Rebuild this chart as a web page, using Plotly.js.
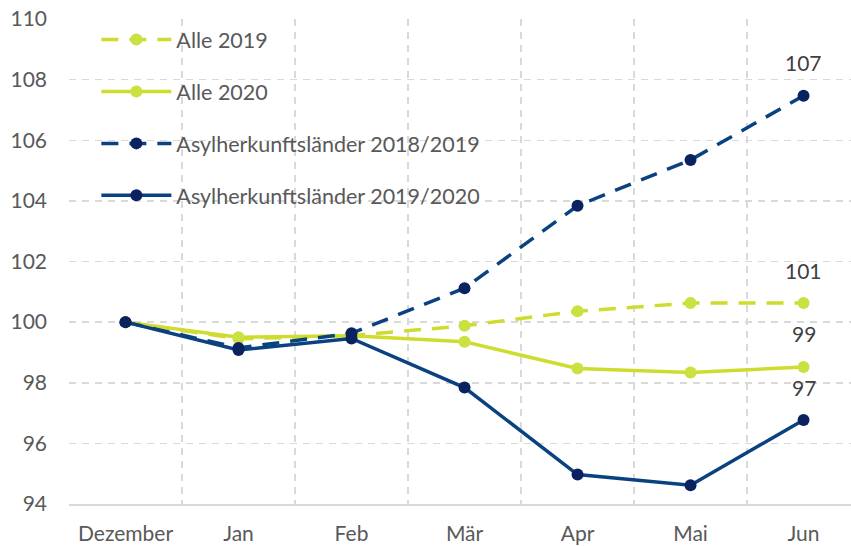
<!DOCTYPE html>
<html>
<head>
<meta charset="utf-8">
<script src="https://cdn.plot.ly/plotly-3.0.1.min.js"></script>
<style>html,body{margin:0;padding:0;background:#fff;}#chart{width:851px;height:546px;}</style>
</head>
<body>
<div id="chart"></div>
<script>
const months = ["Dezember", "Jan", "Feb", "Mär", "Apr", "Mai", "Jun"];
const alle2019 = [100, 99.45, 99.55, 99.88, 100.36, 100.63, 100.63];
const alle2020 = [100, 99.5, 99.55, 99.35, 98.47, 98.34, 98.52];
const asyl2018_2019 = [100, 99.15, 99.63, 101.12, 103.84, 105.35, 107.47];
const asyl2019_2020 = [100, 99.08, 99.46, 97.84, 94.97, 94.62, 96.77];
const seriesNames = ["Alle 2019", "Alle 2020", "Asylherkunftsländer 2018/2019", "Asylherkunftsländer 2019/2020"];
const yTicks = [94, 96, 98, 100, 102, 104, 106, 108, 110];

const green = '#cfdc2e', greenM = '#c9e141';
const navy = '#0a4280', navyM = '#0b2260';
const dashPat = '17px,11px';

const allSeries = [alle2019, alle2020, asyl2018_2019, asyl2019_2020];
const styles = [
  {lc: green, mc: greenM, dash: dashPat},
  {lc: green, mc: greenM, dash: 'solid'},
  {lc: navy, mc: navyM, dash: dashPat},
  {lc: navy, mc: navyM, dash: 'solid'}
];
const order = [1, 0, 3, 2]; // drawing order
const traces = order.map(i => ({
  type: 'scatter', mode: 'lines+markers', x: months, y: allSeries[i], name: seriesNames[i],
  legendgroup: 'g' + i, legendrank: i + 1,
  line: {color: styles[i].lc, width: 3.5, dash: styles[i].dash},
  marker: {color: styles[i].mc, size: 12},
  cliponaxis: false
}));

const last = months.length - 1;
const annotations = allSeries.map(s => ({
  x: months[last], y: s[last], xref: 'x', yref: 'y', text: String(Math.round(s[last])),
  showarrow: false, yshift: 33, font: {size: 21, color: '#404040'}
}));

const layout = {
  width: 851, height: 546,
  margin: {l: 69, r: 0, t: 19, b: 42},
  paper_bgcolor: '#fff', plot_bgcolor: '#fff',
  font: {family: 'Lato, "Open Sans", sans-serif', size: 21, color: '#595959'},
  showlegend: true,
  legend: {x: 0.035, y: 1.0, xanchor: 'left', yanchor: 'top', bgcolor: 'rgba(0,0,0,0)',
           font: {size: 21.5, color: '#595959'}, traceorder: 'grouped', tracegroupgap: 21, itemwidth: 70},
  xaxis: {type: 'category', range: [-0.5, 6.42], tickson: 'boundaries', showgrid: true,
          gridcolor: '#d9d9d9', griddash: '7px,6px', gridwidth: 1.5,
          showline: true, linecolor: '#d9d9d9', linewidth: 1.5, ticks: '', ticklabelstandoff: 10,
          zeroline: false, fixedrange: true, tickfont: {size: 21, color: '#595959'}},
  yaxis: {range: [94, 110], tickvals: yTicks, showgrid: true, gridcolor: '#d9d9d9', griddash: '7px,6px', gridwidth: 1.5,
          zeroline: false, showline: false, ticks: '', ticklabelstandoff: 21,
          tickfont: {size: 21, color: '#595959'}},
  annotations: annotations
};
Plotly.newPlot('chart', traces, layout, {displayModeBar: false, staticPlot: true});
</script>
</body>
</html>
